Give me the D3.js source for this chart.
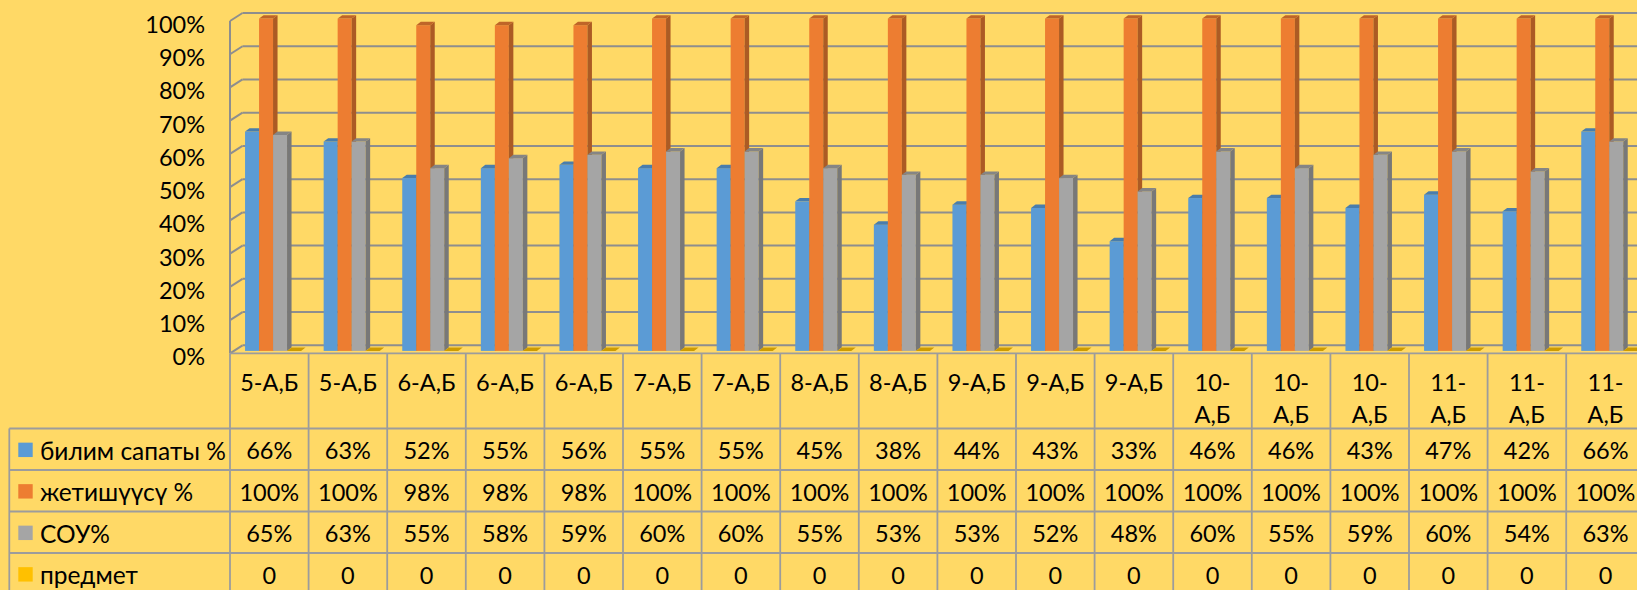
<!DOCTYPE html>
<html><head><meta charset="utf-8">
<script src="https://cdn.jsdelivr.net/npm/d3@7"></script>
<style>html,body{margin:0;padding:0;background:#FFD966;overflow:hidden}</style>
</head><body><svg id="c" width="1637" height="590"></svg>
<script>
const categories = ["5-А,Б","5-А,Б","6-А,Б","6-А,Б","6-А,Б","7-А,Б","7-А,Б","8-А,Б","8-А,Б","9-А,Б","9-А,Б","9-А,Б","10-А,Б","10-А,Б","10-А,Б","11-А,Б","11-А,Б","11-А,Б"];
const seriesNames = ["билим сапаты %","жетишүүсү %","СОУ%","предмет"];
const bilimSapaty = [66,63,52,55,56,55,55,45,38,44,43,33,46,46,43,47,42,66];
const jetishuusu = [100,100,98,98,98,100,100,100,100,100,100,100,100,100,100,100,100,100];
const souValues = [65,63,55,58,59,60,60,55,53,53,52,48,60,55,59,60,54,63];
const predmetValues = [0,0,0,0,0,0,0,0,0,0,0,0,0,0,0,0,0,0];
const seriesIsPercent = [true,true,true,false];
const yTickValues = [0,10,20,30,40,50,60,70,80,90,100];
const seriesColors = ["#5B9BD5","#ED7D31","#A5A5A5","#FFC000"];

const seriesData = [bilimSapaty, jetishuusu, souValues, predmetValues];
const W = 1637, H = 590;
const svg = d3.select("#c");
svg.append("rect").attr("width", W).attr("height", H).attr("fill", "#FFD966");

const left = 230, colW = 78.6;
const font = "Lato, 'Open Sans', sans-serif";
const fs = 23.5;
const fsLegend = 24.5;
const gridColor = "#8E8E8E";
const tableColor = "#9C9C9C";

const x = d3.scaleBand().domain(d3.range(categories.length))
  .range([left, left + colW * categories.length]).padding(0);
const y = d3.scaleLinear().domain([0, 100]).range([353.3, 21]);
const wallDx = 12.5, wallDy = -8;
const barT = 0.3;
const groupW = 56;
const bx = d3.scaleBand().domain(d3.range(seriesData.length)).range([0, groupW]);
const barDx = 4.5, barDy = -3.4;

// walls & gridlines
const gw = svg.append("g").attr("stroke", gridColor).attr("stroke-width", 2).attr("fill", "none");
yTickValues.forEach(v => {
  const yb = y(v) + wallDy;
  gw.append("line").attr("x1", left + wallDx).attr("x2", W).attr("y1", yb).attr("y2", yb);
  gw.append("line").attr("x1", left).attr("y1", y(v)).attr("x2", left + wallDx).attr("y2", yb);
});
gw.append("line").attr("x1", left).attr("x2", left).attr("y1", y(100)).attr("y2", y(0));

// y tick labels
svg.append("g").selectAll("text").data(yTickValues).join("text")
  .attr("x", 205).attr("y", d => y(d) + 3)
  .attr("text-anchor", "end").attr("dominant-baseline", "central")
  .attr("font-family", font).attr("font-size", fs).attr("fill", "#000")
  .text(d => d + "%");

// bars
const gb = svg.append("g");
categories.forEach((c, i) => {
  seriesData.forEach((arr, s) => {
    const v = arr[i];
    const col = d3.color(seriesColors[s]);
    const x0 = x(i) + barT * wallDx + (colW - groupW) / 2 + bx(s);
    const w = bx.bandwidth();
    const y0 = y(0) + barT * wallDy;
    const y1 = y(v) + barT * wallDy;
    if (y0 - y1 > 0.1) {
      gb.append("rect").attr("x", x0).attr("y", y1).attr("width", w).attr("height", y0 - y1)
        .attr("fill", col.formatHex());
      gb.append("polygon")
        .attr("points", [[x0 + w, y1], [x0 + w + barDx, y1 + barDy], [x0 + w + barDx, y0 + barDy], [x0 + w, y0]].map(p => p.join(",")).join(" "))
        .attr("fill", col.darker(0.9).formatHex());
    }
    gb.append("polygon")
      .attr("points", [[x0, y1], [x0 + w, y1], [x0 + w + barDx, y1 + barDy], [x0 + barDx, y1 + barDy]].map(p => p.join(",")).join(" "))
      .attr("fill", col.darker(0.6).formatHex());
  });
});

// data table
const headTop = y(0);
const rowTop = 428.5, rowH = 41.5;
const rowY = d3.scaleBand().domain(d3.range(seriesData.length)).range([rowTop, rowTop + rowH * seriesData.length]);
const gt = svg.append("g").attr("stroke", tableColor).attr("stroke-width", 1.8);
d3.range(categories.length + 1).forEach(i => {
  const xx = left + i * colW;
  gt.append("line").attr("x1", xx).attr("x2", xx).attr("y1", headTop).attr("y2", H);
});
gt.append("line").attr("x1", left).attr("x2", W).attr("y1", headTop).attr("y2", headTop);
d3.range(seriesData.length + 1).forEach(r => {
  const yy = rowTop + r * rowH;
  gt.append("line").attr("x1", 9.3).attr("x2", W).attr("y1", yy).attr("y2", yy);
});
gt.append("line").attr("x1", 9.3).attr("x2", 9.3).attr("y1", rowTop).attr("y2", H);

// category labels
const gc = svg.append("g").attr("font-family", font).attr("font-size", fs).attr("fill", "#000").attr("text-anchor", "middle");
categories.forEach((c, i) => {
  const cx = x(i) + colW / 2;
  const t = gc.append("text").attr("x", cx).attr("y", 382).attr("dominant-baseline", "central").text(c);
  if (t.node().getComputedTextLength() > colW - 10) {
    const k = c.indexOf("-") + 1;
    t.text(null);
    t.append("tspan").attr("x", cx).attr("y", 382).text(c.slice(0, k));
    t.append("tspan").attr("x", cx).attr("y", 413.5).text(c.slice(k));
  }
});

// values
const gv = svg.append("g").attr("font-family", font).attr("font-size", fs).attr("fill", "#000");
seriesData.forEach((arr, s) => {
  const cy = rowY(s) + rowY.bandwidth() / 2 + 1;
  gv.append("rect").attr("x", 18.3).attr("y", cy - 7.6).attr("width", 14.4).attr("height", 14.4)
    .attr("fill", seriesColors[s]);
  gv.append("text").attr("x", 40).attr("y", cy).attr("dominant-baseline", "central")
    .attr("font-size", fsLegend).text(seriesNames[s]);
  arr.forEach((v, i) => {
    gv.append("text").attr("x", x(i) + colW / 2).attr("y", cy).attr("text-anchor", "middle")
      .attr("dominant-baseline", "central").text(seriesIsPercent[s] ? v + "%" : String(v));
  });
});
</script></body></html>
